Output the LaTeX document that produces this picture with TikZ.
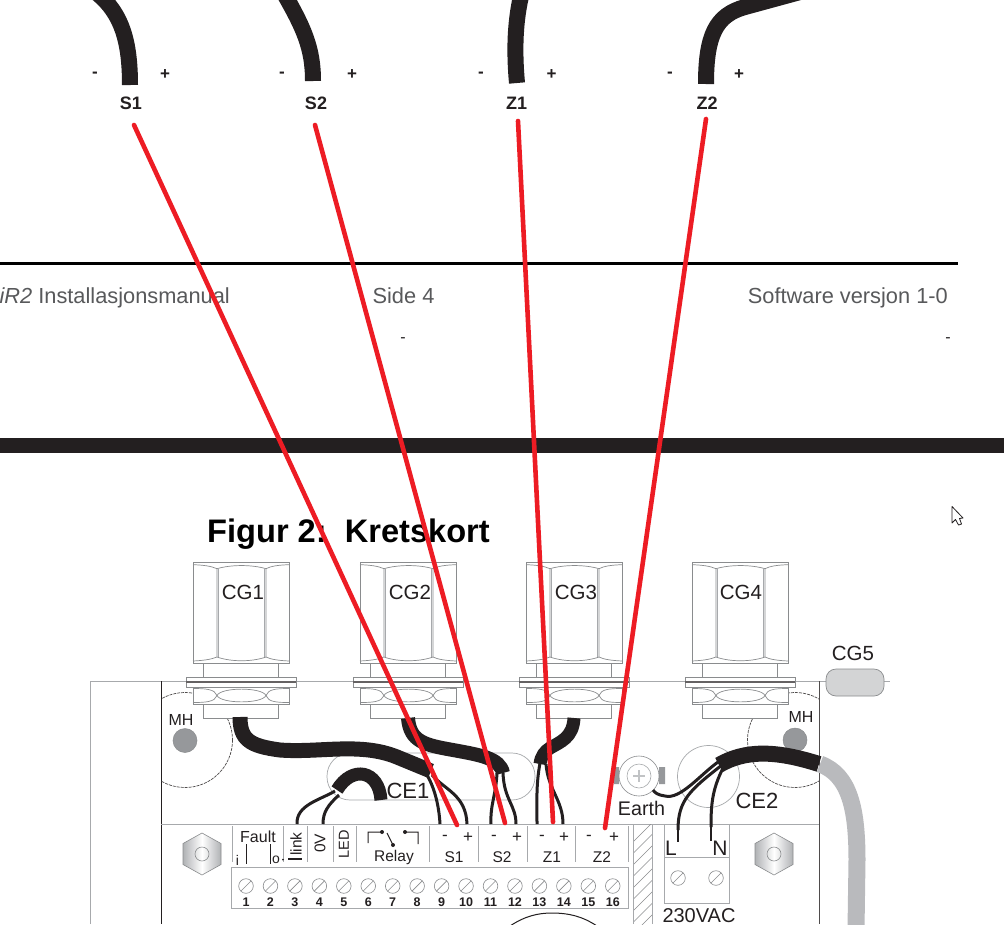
\documentclass[tikz,border=0pt]{standalone}
\usepackage{fontspec}
\setmainfont{Liberation Sans}
\usetikzlibrary{patterns,calc}
\definecolor{ink}{HTML}{231F20}
\definecolor{rule}{HTML}{A7A9AC}
\definecolor{redw}{HTML}{ED1C24}
\definecolor{midg}{HTML}{8A8C8E}
\definecolor{footg}{HTML}{58595B}
\newcommand{\fs}[1]{\fontsize{#1}{#1}\selectfont}
\tikzset{
  every node/.style={inner sep=0pt,text=ink},
  cable/.style={draw=ink,line width=#1},
  cable/.default=15pt,
  wirek/.style={draw=ink,line width=3pt},
  thinw/.style={draw=ink,line width=1.2pt},
  redline/.style={draw=redw,line width=4.6pt,line cap=round},
  thing/.style={draw=rule,line width=.8pt},
  partg/.style={draw=midg,line width=.7pt},
  pole/.style={font=\bfseries\fs{17}},
  plab/.style={font=\bfseries\fs{18}},
  foot/.style={text=footg,font=\fs{21.8},anchor=base},
  cglab/.style={font=\fs{20.5}},
  sm/.style={font=\fs{15.5}},
  tnum/.style={font=\bfseries\fs{12.5}},
  gland/.pic={
    \draw[partg,fill=white] (10.5,101) rectangle (85.5,115);
    \draw[partg,fill=white] (0,0) rectangle (96,101);
    \draw[partg] (0,2.7) .. controls (10,3) and (18,4) .. (24,6.7) -- (24,95) .. controls (18,97.5) and (10,98.5) .. (0,99);
    \draw[partg] (96,2.7) .. controls (86,3) and (78,4) .. (73,6.7) -- (73,95) .. controls (78,97.5) and (86,98.5) .. (96,99);
    \draw[partg] (24,6.7) .. controls (38,2.5) and (59,2.5) .. (73,6.7);
    \draw[partg] (24,95) .. controls (38,100) and (59,100) .. (73,95);
    \draw[rule,line width=1pt] (25.5,7) -- (25.5,95) (71.5,7) -- (71.5,95);
    \draw[partg,fill=white] (10.5,142) rectangle (85.5,156);
    \draw[partg,fill=white] (0,125) rectangle (96,142);
    \draw[partg] (0,126.5) .. controls (12,126.5) and (22,127) .. (24,133.5) .. controls (22,140) and (12,140.5) .. (0,140.5);
    \draw[partg] (96,126.5) .. controls (84,126.5) and (75,127) .. (73,133.5) .. controls (75,140) and (84,140.5) .. (96,140.5);
    \draw[partg] (24,133.5) .. controls (28,125) and (69,125) .. (73,133.5) .. controls (69,142) and (28,142) .. (24,133.5);
    \draw[partg,fill=white] (-7,115) rectangle (103,125);
    \draw[ink!70,line width=1.3pt] (-7,120) -- (103,120);
  },
  screw/.pic={
    \draw[midg,line width=.6pt,fill=white] (0,0) circle (7.3);
    \draw[midg,line width=.6pt] (-5.2,5.2) -- (5.2,-5.2);
  },
  hexnut/.pic={
    \draw[midg,line width=.6pt,left color=rule!90,right color=rule!90,middle color=white]
      (0,-21) -- (19,-10.5) -- (19,10.5) -- (0,21) -- (-19,10.5) -- (-19,-10.5) -- cycle;
    \draw[midg,line width=.6pt] (0,0) circle (7);
  },
}
\begin{document}
\begin{tikzpicture}[x=1pt,y=-1pt]
\useasboundingbox (0,0) rectangle (1004,924);
\clip (0,0) rectangle (1004,924);
\fill[white] (0,0) rectangle (1004,924);

% upper cable stubs
\draw[cable=16pt] (130,85) .. controls (130,42) and (122,14) .. (98,-6);
\draw[cable=16pt] (313,81) .. controls (313,48) and (304,28) .. (282,-10);
\draw[cable=16pt] (517,83) .. controls (514,50) and (515,20) .. (522,-8);
\draw[cable=16pt] (706,84) .. controls (706,35) and (716,15) .. (745,7) -- (800,-8);

\foreach \nm/\x in {s1/95,s2/282,z1/481,z2/670}{\node[pole] (top-\nm-m) at (\x,75) {-};}
\foreach \nm/\x in {s1/165,s2/352,z1/551.5,z2/739}{\node[pole] (top-\nm-p) at (\x,75) {+};}
\node[plab] (topS1) at (131,103.5) {S1};
\node[plab] (topS2) at (316,103.5) {S2};
\node[plab] (topZ1) at (516.5,103.5) {Z1};
\node[plab] (topZ2) at (707,103.5) {Z2};

% footer of page
\fill[black] (0,261.5) rectangle (958,265);
\node[foot,anchor=base east] (fman) at (230,303) {\textit{iR2} Installasjonsmanual};
\node[foot] (fside) at (403.5,303) {Side 4};
\node[foot,anchor=base east] (fsoft) at (948,303) {Software versjon 1-0};
\node[font=\fs{16}] (dashA) at (403,340.5) {-};
\node[font=\fs{16}] (dashB) at (948,340.5) {-};
\fill[ink] (0,438) rectangle (1004,453);

\node[anchor=base west,font=\bfseries\fs{32.6},text=black] (title) at (207,542.5) {Figur 2:\ \ Kretskort};

% cursor
\draw[ink,line width=.8pt,fill=white,line join=round] (952,506.5) -- (952,523) -- (955.5,519.5) -- (958.5,525) -- (961.5,524) -- (959.5,518.5) -- (963,518) -- cycle;

% board
\draw[thing] (90,924) -- (90,681) -- (826,681);
\draw[thing] (884,681) -- (890,681);
\draw[ink,line width=1pt] (161,681) -- (161,924);
\draw[ink!80,line width=1pt] (819,681) -- (819,924);
\draw[thing] (161,824) -- (819,824);

% mounting holes
\begin{scope}
\clip (161.5,681) rectangle (819,824);
\draw[ink!80,line width=.7pt,dash pattern=on 3pt off 1pt] (185,740) circle (47.5);
\draw[ink!80,line width=.7pt,dash pattern=on 3pt off 1pt] (795,740) circle (47.5);
\end{scope}
\fill[rule!90!black] (185,740.5) circle (12);
\fill[rule!90!black] (795,740) circle (12);
\draw[midg,line width=.5pt] (185,740.5) circle (12) (795,740) circle (12);
\node[font=\fs{16}] (mhL) at (181,720) {MH};
\node[font=\fs{16}] (mhR) at (801,717) {MH};

% glands
\pic at (193,562) {gland};
\pic at (360,562) {gland};
\pic at (526,562) {gland};
\pic at (692,562) {gland};
\node[cglab] (cg1) at (243,592) {CG1};
\node[cglab] (cg2) at (410,592) {CG2};
\node[cglab] (cg3) at (576,592) {CG3};
\node[cglab] (cg4) at (741,592) {CG4};
\draw[midg,line width=.7pt,fill=rule!50,rounded corners=10pt] (826,669) rectangle (884,696);
\node[cglab] (cg5) at (853,653) {CG5};

% CE capsules
\draw[rule,line width=.7pt,rounded corners=23pt] (327,753) rectangle (535,800);
\draw[rule,line width=.7pt] (708.5,776.5) circle (31);
\node[font=\fs{22}] (ce1) at (408,791) {CE1};
\node[font=\fs{22}] (ce2) at (757,801) {CE2};

% earth stud
\fill[rule!90!black] (614,767) rectangle (619,784) (659,767) rectangle (665,784);
\draw[midg,line width=.6pt,fill=white] (639,776) circle (20);
\draw[rule,line width=.6pt] (639,776) circle (12);
\draw[rule!70,line width=2pt] (633,776) -- (645,776) (639,770) -- (639,782);
\node[font=\fs{19.7}] (earth) at (641.5,808) {Earth};

% inner cables
\draw[cable=15pt] (240,717) .. controls (240,740) and (250,746) .. (280,750) .. controls (320,753) and (360,742) .. (397,757) -- (431,771);
\draw[cable=14pt] (408,718) .. controls (410,742) and (425,745) .. (453,750) .. controls (480,755) and (500,758) .. (503,773);
\draw[cable=13pt] (574,718) .. controls (573,738) and (560,742) .. (550,748) .. controls (545,751) and (541,756) .. (540,764);
\draw[cable=13pt] (381,800) .. controls (379,770) and (352,765) .. (337,790);

% wires
\draw[wirek] (425,772) .. controls (434,785) and (439,805) .. (440,824);
\draw[wirek] (432,775) .. controls (445,790) and (466,795) .. (467,824);
\draw[wirek] (497,773) .. controls (496,795) and (490,805) .. (491,824);
\draw[wirek] (503,773) .. controls (504,800) and (516,805) .. (516,824);
\draw[wirek] (540,763) .. controls (536,785) and (537,800) .. (537,824);
\draw[wirek] (546,764) .. controls (548,790) and (563,800) .. (563,824);
\draw[wirek] (335,791) .. controls (320,800) and (296,805) .. (297,824);
\draw[wirek] (339,795) .. controls (328,805) and (323,812) .. (323,824);

% CE2 cable
\draw[draw=rule!80!white,line width=17pt] (820,764) .. controls (850,775) and (857,810) .. (857,860) -- (856,930);
\draw[cable=16pt] (719,765) .. controls (745,750) and (775,750) .. (819,764);
\draw[wirek] (718,762) .. controls (700,775) and (680,800) .. (665,796) .. controls (658,795) and (655,793) .. (653,790);
\draw[wirek] (722,765) .. controls (690,790) and (678,800) .. (678,830);
\draw[wirek] (723,768) .. controls (712,790) and (711,805) .. (711,827);
\draw[thinw] (678,830) -- (678,842) (711,827) -- (711,841);

% terminals row
\draw[thing] (231,867) rectangle (628,908);
\foreach \i in {1,...,16}{
  \pgfmathsetmacro{\tx}{246+24.45*(\i-1)}
  \pic at (\tx,886) {screw};
  \node[tnum] (t\i) at (\tx,902.5) {\i};
}
\foreach \x in {232,283,307,333,356,429,478,527,575,628}{\draw[thing] (\x,826) -- (\x,862);}
\node[font=\fs{16}] (fault) at (258,837) {Fault};
\node[font=\fs{14}] (fi) at (237.5,860) {i};
\node[font=\fs{14}] (fo) at (276,860) {o};
\draw[ink,line width=.6pt] (246,844) -- (246,864) (270,844) -- (270,864);
\fill[ink] (283,859.5) circle (1);
\node[sm,rotate=90] (link) at (296,844) {link};
\draw[ink,line width=2pt] (288,859) -- (302,859);
\node[sm,rotate=90] (zv) at (320,843.5) {0V};
\node[font=\fs{14.5},rotate=90] (led) at (344,844.5) {LED};
\node[sm] (relay) at (394,857) {Relay};
\draw[ink,line width=1pt] (368,843) -- (368,832) -- (382,832) (387,833) -- (393,845) (405,832) -- (418,832) -- (418,844);
\fill[ink] (382,832) circle (2) (393,845) circle (2) (405,832) circle (2);

\foreach \nm/\x in {sa/445,sb/494,za/542,zb/589}{\node[font=\fs{17}] (tm\nm) at (\x,838) {-};}
\foreach \nm/\x in {sa/468,sb/517,za/564,zb/614}{\node[font=\fs{17}] (tp\nm) at (\x,838) {+};}
\node[sm] (botS1) at (454,857) {S1};
\node[sm] (botS2) at (502,857) {S2};
\node[sm] (botZ1) at (552,857) {Z1};
\node[sm] (botZ2) at (602,857) {Z2};

% hatched strip
\begin{scope}
\clip (633,824.5) rectangle (652,924);
\foreach \k in {0,...,12}{\draw[midg,line width=.5pt] (630,845+\k*11.5) -- (656,819+\k*11.5);}
\end{scope}
\draw[thing] (633,824) -- (633,924) (652,824) -- (652,924);

% mains terminal
\draw[thing] (664,824) -- (664,903) -- (729,903) -- (729,824);
\draw[thing] (664,857) -- (729,857);
\pic at (678,878) {screw};
\pic at (716,878) {screw};
\node[font=\fs{21}] (lL) at (671,848) {L};
\node[font=\fs{21}] (lN) at (720,848) {N};
\node[font=\fs{20}] (v230) at (699,915.5) {230VAC};

% bolts
\pic at (202,854) {hexnut};
\pic at (774,854) {hexnut};

% bottom arc
\draw[ink,line width=1pt] (510,926) .. controls (525,916) and (538,913) .. (552,913) .. controls (568,913) and (582,916) .. (597,926);

% red connecting lines
\coordinate (endS1) at (457,825);
\coordinate (endS2) at (505,823);
\coordinate (endZ1) at (553,822);
\coordinate (endZ2) at (605,828);
\coordinate (stS1) at (134,125);
\coordinate (stS2) at (315,125);
\coordinate (stZ1) at (518,121);
\coordinate (stZ2) at (706,119);
\draw[redline] (stS1) -- (endS1);
\draw[redline] (stS2) -- (endS2);
\draw[redline] (stZ1) -- (endZ1);
\draw[redline] (stZ2) -- (endZ2);
\end{tikzpicture}
\end{document}
